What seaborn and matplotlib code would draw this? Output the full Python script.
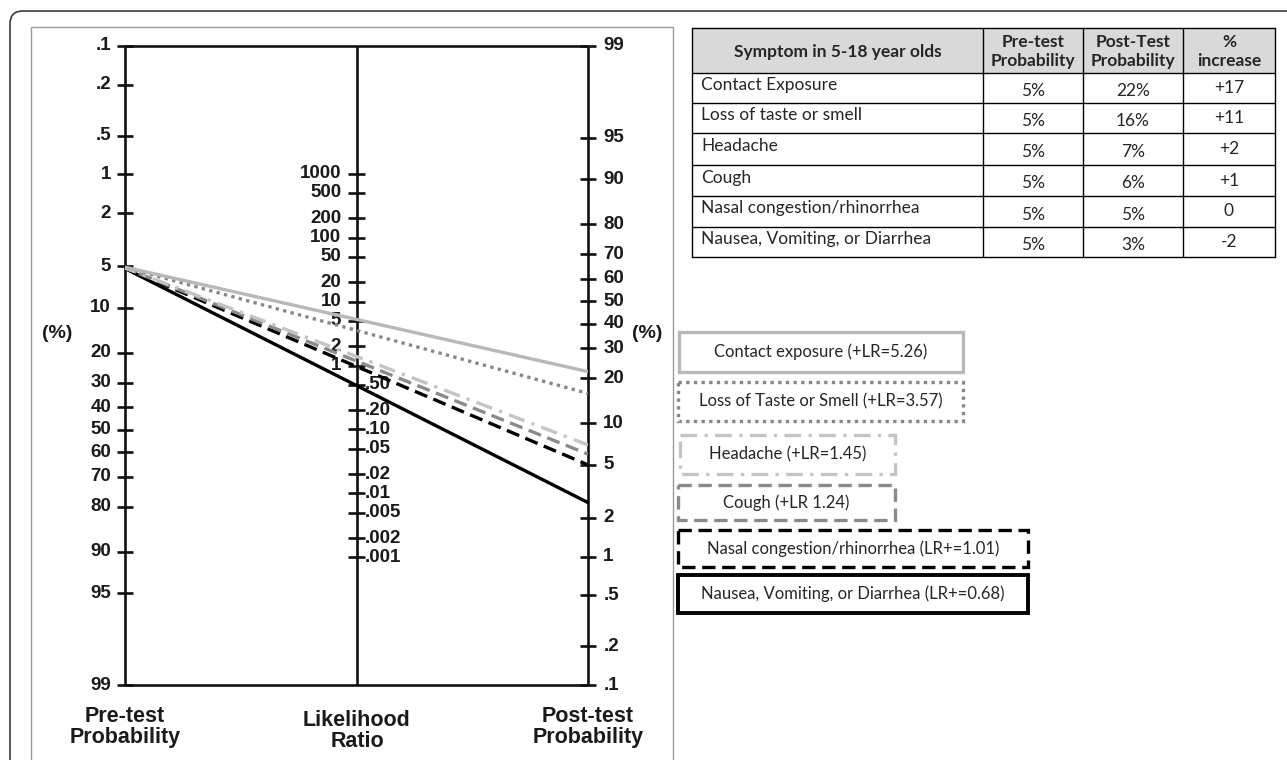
import numpy as np
import pandas as pd
import matplotlib
matplotlib.use("Agg")
import matplotlib.pyplot as plt
import seaborn as sns
from matplotlib.patches import Rectangle, FancyBboxPatch

# ---- data ----
symptoms = ["Contact Exposure", "Loss of taste or smell", "Headache", "Cough",
            "Nasal congestion/rhinorrhea", "Nausea, Vomiting, or Diarrhea"]
pre_test_pct = [5, 5, 5, 5, 5, 5]
post_test_pct = [22, 16, 7, 6, 5, 3]
pct_increase = ["+17", "+11", "+2", "+1", "0", "-2"]
# where each line meets the post-test scale in the drawing
line_end_pct = [22, 16, 7, 6, 5, 2.6]

legend_labels = ["Contact exposure (+LR=5.26)", "Loss of Taste or Smell (+LR=3.57)",
                 "Headache (+LR=1.45)", "Cough (+LR 1.24)",
                 "Nasal congestion/rhinorrhea (LR+=1.01)",
                 "Nausea, Vomiting, or Diarrhea (LR+=0.68)"]

pre_ticks = [0.1, 0.2, 0.5, 1, 2, 5, 10, 20, 30, 40, 50, 60, 70, 80, 90, 95, 99]
pre_labels = [".1", ".2", ".5", "1", "2", "5", "10", "20", "30", "40", "50", "60",
              "70", "80", "90", "95", "99"]
lr_ticks = [1000, 500, 200, 100, 50, 20, 10, 5, 2, 1, 0.5, 0.2, 0.1, 0.05, 0.02,
            0.01, 0.005, 0.002, 0.001]
lr_labels = ["1000", "500", "200", "100", "50", "20", "10", "5", "2", "1", ".50",
             ".20", ".10", ".05", ".02", ".01", ".005", ".002", ".001"]
post_ticks = [99, 95, 90, 80, 70, 60, 50, 40, 30, 20, 10, 5, 2, 1, 0.5, 0.2, 0.1]
post_labels = ["99", "95", "90", "80", "70", "60", "50", "40", "30", "20", "10",
               "5", "2", "1", ".5", ".2", ".1"]

# line styles for each symptom
colors = ["#b8b8b8", "#878787", "#c4c4c4", "#8a8a8a", "#000000", "#000000"]
styles = ["-", (0, (1, 1.3)), (0, (5, 2.2, 1, 2.2)), (0, (4, 2)), (0, (4, 2)), "-"]


def logit(p):
    p = np.asarray(p, dtype=float) / 100.0
    return np.log(p / (1 - p))


Y_TOP = float(logit(0.1))
Y_BOT = float(logit(99))
C = Y_TOP + Y_BOT  # shift of the post-test scale


def post_y(p):
    return -logit(p) + C


def lr_y(lr):
    return (C - np.log(np.asarray(lr, dtype=float))) / 2


sns.set_theme(style="white")
plt.rcParams["font.family"] = ["Liberation Sans", "DejaVu Sans"]

W, H = 1287, 760
fig = plt.figure(figsize=(W / 100, H / 100), dpi=100)

# overlay in pixel coordinates for frames, table and legend boxes
bg = fig.add_axes([0, 0, 1, 1])
bg.set_xlim(0, W)
bg.set_ylim(H, 0)
bg.axis("off")

bg.add_patch(FancyBboxPatch((10, 11), W + 40, H + 40,
                            boxstyle="round,pad=0,rounding_size=13",
                            fill=False, ec="#3c3c3c", lw=1.2))
bg.add_patch(Rectangle((31, 27), 642, H + 20, fill=False, ec="#9a9a9a", lw=1.0))

# ---- nomogram ----
ax = fig.add_axes([125 / W, (H - 685) / H, (588 - 125) / W, (685 - 46) / H])
ax.set_xlim(0, 2)
ax.set_ylim(Y_BOT, Y_TOP)
ax.axis("off")
ax.patch.set_alpha(0)

axis_kw = dict(color="#111111", lw=1.9, solid_capstyle="butt", clip_on=False)
ax.plot([0, 0], [Y_TOP, Y_BOT], **axis_kw)
ax.plot([1, 1], [Y_TOP, Y_BOT], **axis_kw)
ax.plot([2, 2], [Y_TOP, Y_BOT], **axis_kw)
ax.plot([0, 2], [Y_TOP, Y_TOP], **axis_kw)
ax.plot([0, 2], [Y_BOT, Y_BOT], **axis_kw)

tk = 0.036
tick_font = dict(fontsize=13.5, fontweight="bold", color="#1a1a1a", va="center")
for v, lab in zip(pre_ticks, pre_labels):
    y = float(logit(v))
    ax.plot([-tk, tk], [y, y], **axis_kw)
    ax.annotate(lab, (0, y), xytext=(-10, 0), textcoords="offset points",
                ha="right", **tick_font)
for v, lab in zip(lr_ticks, lr_labels):
    y = float(lr_y(v))
    ax.plot([1 - tk, 1 + tk], [y, y], **axis_kw)
    if v >= 1:
        ax.annotate(lab, (1, y), xytext=(-11, 0), textcoords="offset points",
                    ha="right", **tick_font)
    else:
        ax.annotate(lab, (1, y), xytext=(6, 0), textcoords="offset points",
                    ha="left", **tick_font)
for v, lab in zip(post_ticks, post_labels):
    y = float(post_y(v))
    ax.plot([2 - tk, 2 + tk], [y, y], **axis_kw)
    ax.annotate(lab, (2, y), xytext=(11, 0), textcoords="offset points",
                ha="left", **tick_font)

for i in range(len(symptoms)):
    y0 = float(logit(pre_test_pct[i]))
    y1 = float(post_y(line_end_pct[i]))
    sns.lineplot(x=[-0.02, 2], y=[y0, y1], ax=ax, color=colors[i],
                 linestyle=styles[i], linewidth=2.4, zorder=5 - i * 0.1)

bg.text(57, 333, "(%)", fontsize=14, fontweight="bold", ha="center", va="center",
        color="#1a1a1a")
bg.text(647, 333, "(%)", fontsize=14, fontweight="bold", ha="center", va="center",
        color="#1a1a1a")
lab_kw = dict(fontsize=15.5, fontweight="bold", ha="center", va="center",
              color="#1a1a1a", linespacing=1.0)
bg.text(125, 727, "Pre-test\nProbability", **lab_kw)
bg.text(357, 731, "Likelihood\nRatio", **lab_kw)
bg.text(588, 727, "Post-test\nProbability", **lab_kw)

# ---- table ----
calibri = ["Lato", "DejaVu Sans"]
fs = 12.5
col_x = [692, 983, 1083, 1183, 1275]
row_y = [28, 73, 103, 133, 165, 196, 227, 257]
bg.add_patch(Rectangle((col_x[0], row_y[0]), col_x[-1] - col_x[0], row_y[1] - row_y[0],
                       fc="#d9d9d9", ec="none"))
for x in col_x:
    bg.plot([x, x], [row_y[0], row_y[-1]], color="black", lw=1.0)
for y in row_y:
    bg.plot([col_x[0], col_x[-1]], [y, y], color="black", lw=1.0)

hy = (row_y[0] + row_y[1]) / 2
bg.text((col_x[0] + col_x[1]) / 2, hy + 1, "Symptom in 5-18 year olds", family=calibri,
        fontsize=fs, fontweight="bold", ha="center", va="center")
for j, h in enumerate(["Pre-test\nProbability", "Post-Test\nProbability", "%\nincrease"]):
    bg.text((col_x[j + 1] + col_x[j + 2]) / 2, hy + 1, h, family=calibri, fontsize=fs,
            fontweight="bold", ha="center", va="center", linespacing=1.25)
for i in range(len(symptoms)):
    cy = (row_y[i + 1] + row_y[i + 2]) / 2
    bg.text(col_x[0] + 9, cy - 3, symptoms[i], family=calibri, fontsize=fs,
            ha="left", va="center")
    bg.text((col_x[1] + col_x[2]) / 2, cy + 3, f"{pre_test_pct[i]}%", family=calibri,
            fontsize=fs, ha="center", va="center")
    bg.text((col_x[2] + col_x[3]) / 2, cy + 3, f"{post_test_pct[i]}%", family=calibri,
            fontsize=fs, ha="center", va="center")
    bg.text((col_x[3] + col_x[4]) / 2, cy, pct_increase[i], family=calibri,
            fontsize=fs, ha="center", va="center")

# ---- legend boxes ----
boxes = [(679, 963, 332, 372), (678, 963, 382, 421), (680, 895, 435, 474),
         (678, 895, 485, 520), (678, 1028, 530, 567), (678, 1028, 575, 613)]
box_lw = [2.4, 2.4, 2.4, 2.4, 2.4, 2.8]
for i, (x0, x1, y0, y1) in enumerate(boxes):
    bg.add_patch(Rectangle((x0, y0), x1 - x0, y1 - y0, fill=False, ec=colors[i],
                           ls=styles[i], lw=box_lw[i]))
    bg.text((x0 + x1) / 2, (y0 + y1) / 2, legend_labels[i], family=calibri,
            fontsize=12, ha="center", va="center")

fig.savefig("out.png", dpi=100)
